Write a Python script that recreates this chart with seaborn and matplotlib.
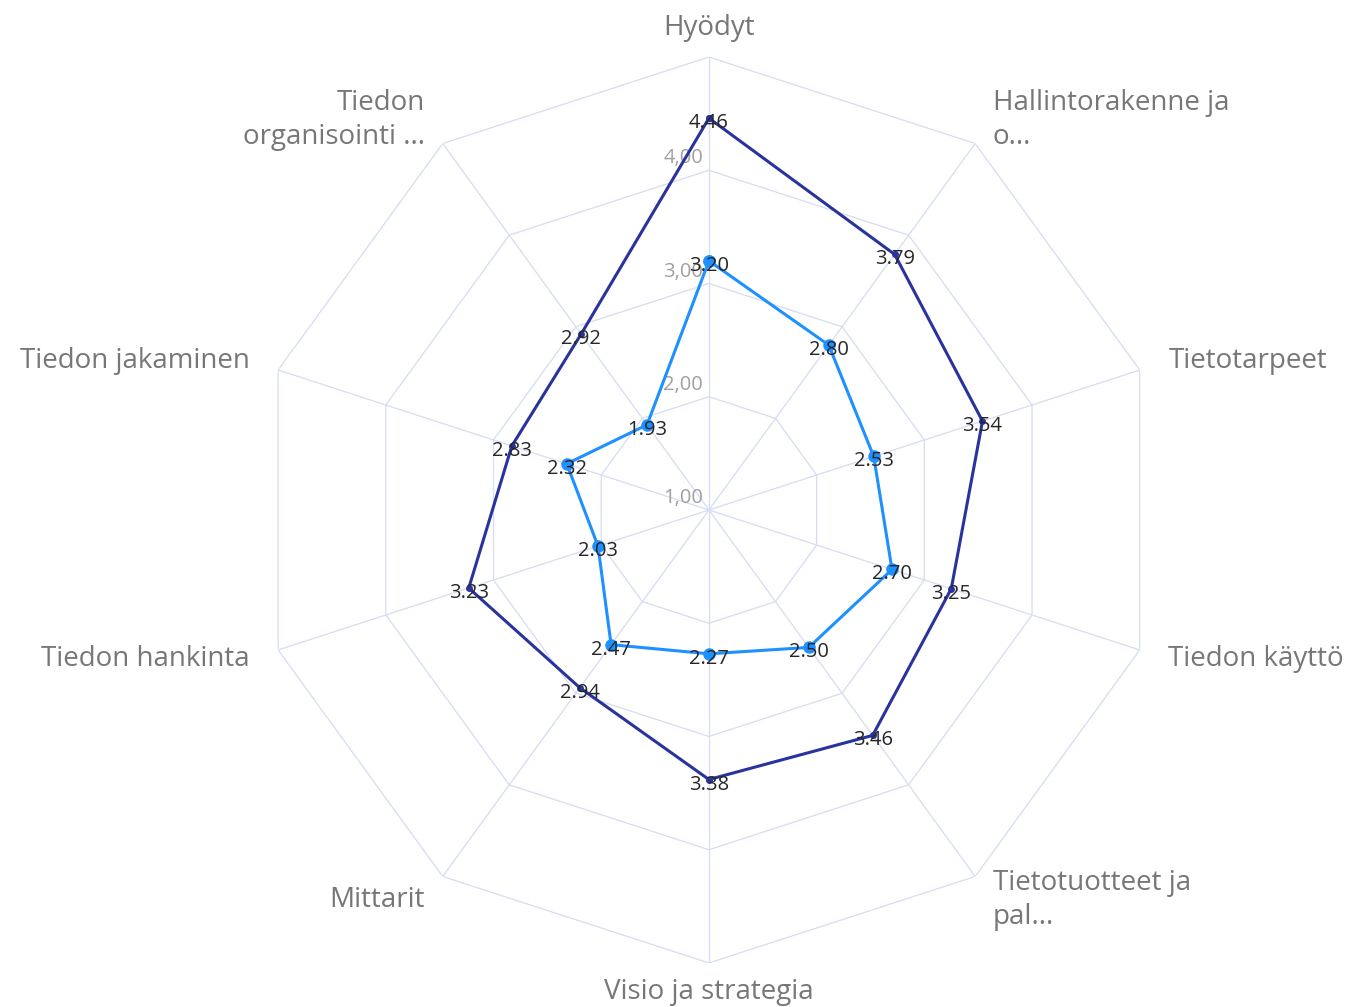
import numpy as np
import pandas as pd
import matplotlib
matplotlib.use('Agg')
import matplotlib.pyplot as plt
import seaborn as sns

# Chart data
categories = ['Hyödyt', 'Hallintorakenne ja\no...', 'Tietotarpeet', 'Tiedon käyttö',
              'Tietotuotteet ja\npal...', 'Visio ja strategia', 'Mittarit',
              'Tiedon hankinta', 'Tiedon jakaminen', 'Tiedon\norganisointi ...']
series_dark = [4.46, 3.79, 3.54, 3.25, 3.46, 3.38, 2.94, 3.23, 2.83, 2.92]
series_light = [3.20, 2.80, 2.53, 2.70, 2.50, 2.27, 2.47, 2.03, 2.32, 1.93]
ring_values = [1, 2, 3, 4, 5]
tick_values = [1, 2, 3, 4]
tick_labels = ['1,00', '2,00', '3,00', '4,00']

sns.set_style('white')
plt.rcParams['font.family'] = ['Open Sans', 'DejaVu Sans']

n = len(categories)
theta = np.linspace(0, 2 * np.pi, n, endpoint=False)
theta_closed = np.r_[theta, 2 * np.pi]

fig = plt.figure(figsize=(13.55, 10.07), dpi=100)
ax = fig.add_axes([0.1889, 0.0437, 0.6686, 0.8997], projection='polar')
ax.set_theta_zero_location('N')
ax.set_theta_direction(-1)
ax.set_ylim(1, 5)
ax.grid(False)
ax.set_xticks([])
ax.set_yticks([])
ax.spines['polar'].set_visible(False)

grid_color = '#d6dcf1'
# polygon rings
for r in ring_values[1:]:
    ax.plot(theta_closed, [r] * (n + 1), color=grid_color, lw=0.9, zorder=1)
# spokes
for t in theta:
    ax.plot([t, t], [ring_values[0], ring_values[-1]], color=grid_color, lw=0.9, zorder=1)

# radial tick labels
for v, lab in zip(tick_values, tick_labels):
    ax.annotate(lab, xy=(0, v), xytext=(-6, 12), textcoords='offset pixels',
                ha='right', va='center', fontsize=14.5, color='#a0a0a0', zorder=2)

# series
df_light = pd.DataFrame({'theta': theta_closed, 'value': series_light + series_light[:1]})
df_dark = pd.DataFrame({'theta': theta_closed, 'value': series_dark + series_dark[:1]})

sns.lineplot(data=df_light, x='theta', y='value', ax=ax, sort=False, estimator=None,
             color='#1e90ff', lw=2.2, marker='o', markersize=9, markeredgewidth=0, zorder=3)
sns.lineplot(data=df_dark, x='theta', y='value', ax=ax, sort=False, estimator=None,
             color='#28339e', lw=2.2, marker='o', markersize=5, markeredgewidth=0, zorder=4)
ax.set_xlabel('')
ax.set_ylabel('')

# value labels
for vals in (series_light, series_dark):
    for t, v in zip(theta, vals):
        ax.annotate(f'{v:.2f}', xy=(t, v), xytext=(0, -5), textcoords='offset pixels',
                    ha='center', va='center', fontsize=14.5, color='#262626', zorder=5)

# category labels
for t, lab in zip(theta, categories):
    s, c = np.sin(t), np.cos(t)
    if abs(s) < 0.01:
        ha = 'center'
    elif s > 0:
        ha = 'left'
    else:
        ha = 'right'
    ax.annotate(lab, xy=(t, 5), xytext=(30 * s, 29 * c), textcoords='offset pixels',
                ha=ha, va='center', multialignment=ha if ha != 'center' else 'center',
                fontsize=20, color='#777777', linespacing=1.3)

fig.savefig('out.png', dpi=100)
